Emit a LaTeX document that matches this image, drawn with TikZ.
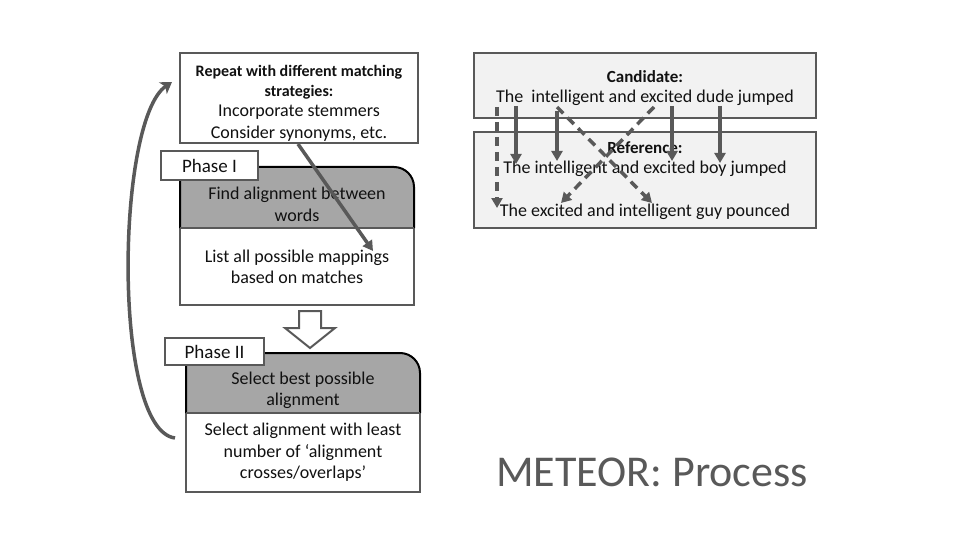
\documentclass[tikz,border=0pt]{standalone}
\usepackage{fontspec}
\setmainfont{Carlito}
\usetikzlibrary{arrows.meta}
\definecolor{lineg}{HTML}{595959}
\definecolor{fillg}{HTML}{A6A6A6}
\definecolor{boxg}{HTML}{F2F2F2}
\definecolor{txt}{HTML}{111111}
\tikzset{
  wbox/.style={draw=lineg, line width=2pt, fill=white, inner sep=0pt},
  gbox/.style={draw=lineg, line width=2pt, fill=boxg, inner sep=0pt},
  plain/.style={inner sep=0pt, text=txt, align=center},
  body/.style={plain, font=\fontsize{18}{21.5}\selectfont},
  hdr/.style={plain, font=\fontsize{16}{20}\selectfont\bfseries},
  flow/.style={draw=lineg, line width=3.5pt, -{Triangle[width=11pt,length=10pt]}},
  dflow/.style={flow, dash pattern=on 9pt off 6pt},
}
\begin{document}
\begin{tikzpicture}[x=1pt,y=-1pt]
\useasboundingbox (0,0) rectangle (960,540);
% ---------- left column ----------
\node[wbox, minimum width=238pt, minimum height=90pt] (top) at (299,98) {};
\node[hdr] (topa) at (299,82) {Repeat with different matching\\strategies:};
\node[body] (topb) at (299,123) {Incorporate stemmers\\Consider synonyms, etc.};

% phase I
\node[wbox, minimum width=234pt, minimum height=77pt] (w1) at (297,266.5) {};
\fill[fillg] (180,228) -- (180,172) arc[start angle=180,end angle=270,radius=5] -- (394,167) arc[start angle=-90,end angle=0,radius=20] -- (414,228) -- cycle;
\draw[black, line width=2pt] (180,228) -- (180,172) arc[start angle=180,end angle=270,radius=5] -- (394,167) arc[start angle=-90,end angle=0,radius=20] -- (414,228);
\draw[lineg, line width=2pt] (180,228) -- (414,228);
\node[wbox, minimum width=97pt, minimum height=29pt] (p1) at (209.5,165.5) {};
\node[plain, font=\fontsize{19}{22}\selectfont] (p1t) at (209.5,165.5) {Phase I};
\node[body] (g1t) at (297,204.5) {Find alignment between\\words};
\node[body] (w1t) at (297,267) {List all possible mappings\\based on matches};

% hollow arrow
\draw[lineg, line width=2pt, fill=white, line join=miter] (299,311) -- (321,311) -- (321,328) -- (335,328) -- (310,348) -- (285,328) -- (299,328) -- cycle;

% phase II
\node[wbox, minimum width=234pt, minimum height=79pt] (w2) at (303,452.5) {};
\fill[fillg] (186,413) -- (186,358) arc[start angle=180,end angle=270,radius=5] -- (400,353) arc[start angle=-90,end angle=0,radius=20] -- (420,413) -- cycle;
\draw[black, line width=2pt] (186,413) -- (186,358) arc[start angle=180,end angle=270,radius=5] -- (400,353) arc[start angle=-90,end angle=0,radius=20] -- (420,413);
\draw[lineg, line width=2pt] (186,413) -- (420,413);
\node[wbox, minimum width=99pt, minimum height=27pt] (p2) at (214.5,351.5) {};
\node[plain, font=\fontsize{19}{22}\selectfont] (p2t) at (214.5,351.5) {Phase II};
\node[body] (g2t) at (303,390.5) {Select best possible\\alignment};
\node[body] (w2t) at (303,452.5) {Select alignment with least\\number of `alignment\\crosses/overlaps'};

% arrows left
\coordinate (a1s) at (298,144);
\coordinate (a1e) at (373,251);
\draw[flow] (a1s) -- (a1e);
\coordinate (cs) at (175,438);
\coordinate (ce) at (172,82);
\draw[draw=lineg, line width=3.5pt, -{Stealth[width=14pt,length=11pt,inset=3pt]}] (cs) .. controls (112,430) and (116,120) .. (ce);

% ---------- right column ----------
\node[gbox, minimum width=342pt, minimum height=65pt] (cand) at (645,85.5) {};
\node[gbox, minimum width=342pt, minimum height=96pt] (ref) at (645,180) {};
\node[plain, font=\fontsize{17}{20}\selectfont\bfseries] (candh) at (645,77) {Candidate:};
\node[body] (candt) at (645,98) {The~ intelligent and excited dude jumped};
\node[plain, font=\fontsize{17}{20}\selectfont\bfseries] (refh) at (645,148) {Reference:};
\node[body] (ref1) at (645,169) {The intelligent and excited boy jumped};
\node[body] (ref2) at (645,212) {The excited and intelligent guy pounced};

\coordinate (c1) at (516,106); \coordinate (r1) at (516,164);
\coordinate (c2) at (557,111); \coordinate (r2) at (557,161);
\coordinate (c3) at (672,106); \coordinate (r3) at (672,161);
\coordinate (c4) at (720,106); \coordinate (r4) at (720,163);
\coordinate (d1s) at (497,107); \coordinate (d1e) at (497,208);
\coordinate (d2s) at (557,107); \coordinate (d2e) at (652,203);
\coordinate (d3s) at (654,107); \coordinate (d3e) at (561,203);
\draw[flow] (c1) -- (r1);
\draw[flow] (c2) -- (r2);
\draw[flow] (c3) -- (r3);
\draw[flow] (c4) -- (r4);
\draw[dflow] (d1s) -- (d1e);
\draw[dflow] (d2s) -- (d2e);
\draw[dflow] (d3s) -- (d3e);

\node[inner sep=0pt, text=lineg, font=\fontsize{44}{48}\selectfont] (title) at (652,472) {METEOR: Process};
\end{tikzpicture}
\end{document}
